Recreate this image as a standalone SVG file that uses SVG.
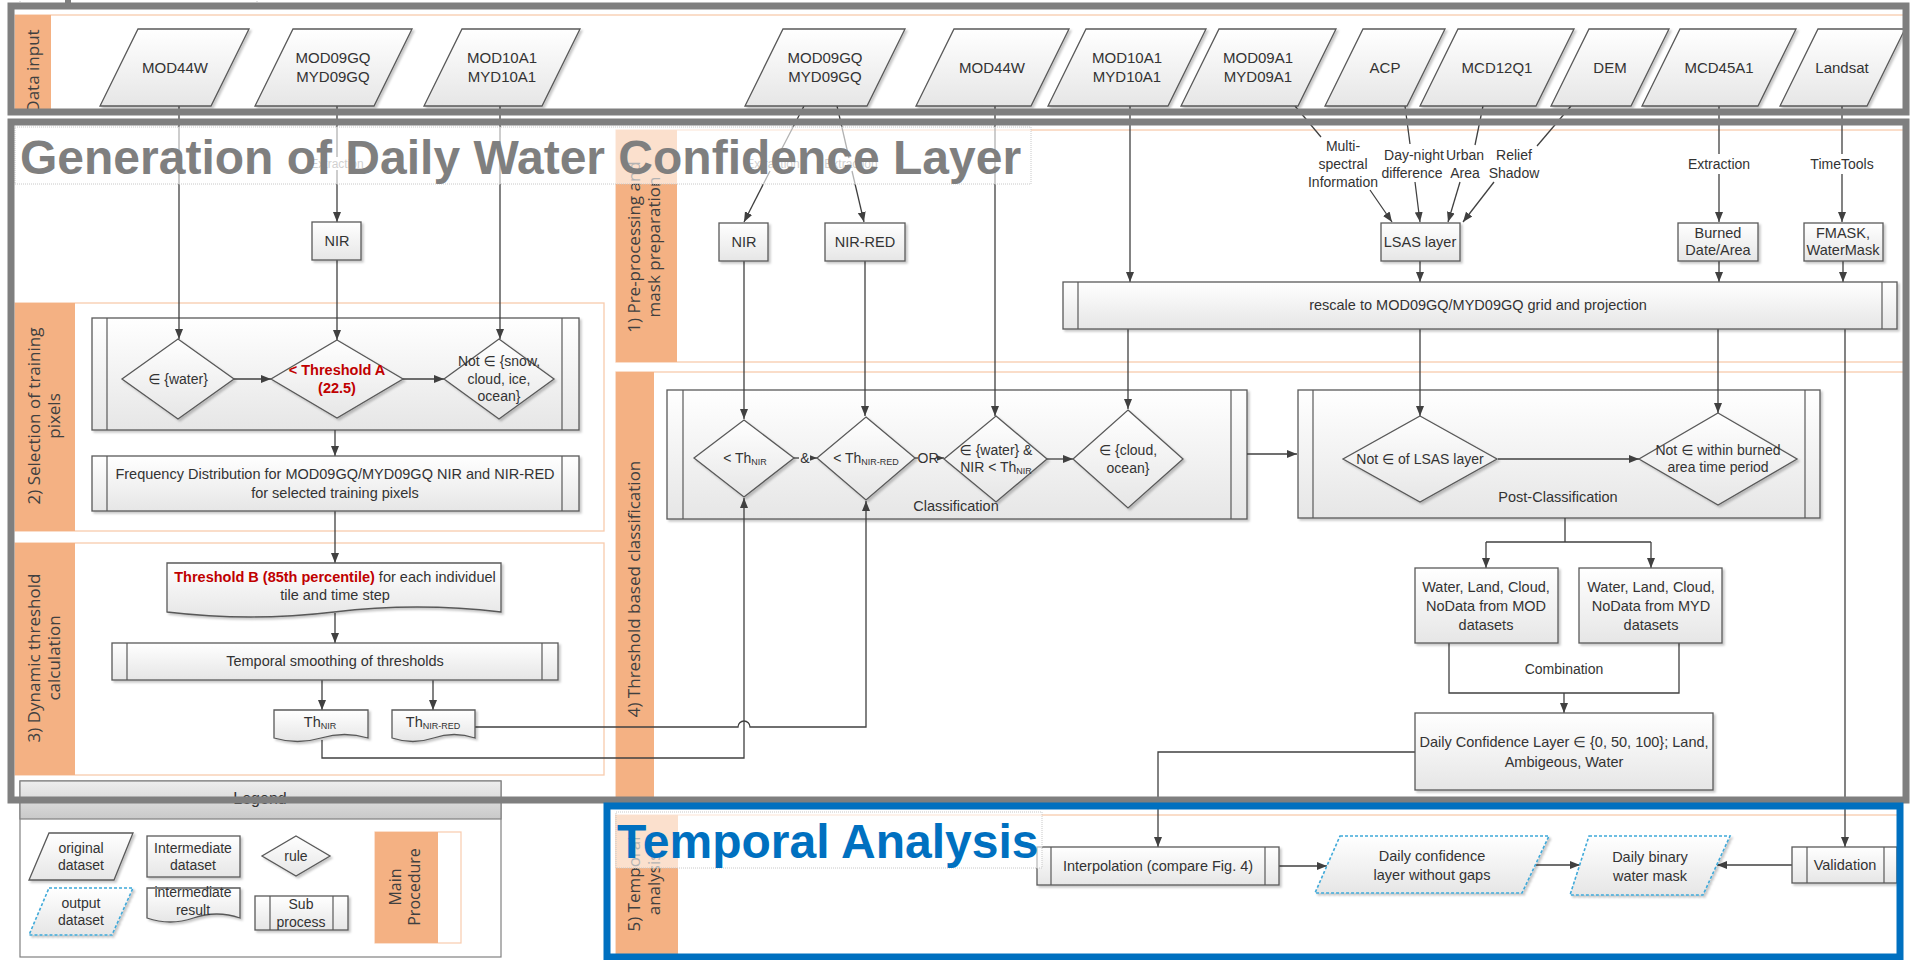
<svg xmlns="http://www.w3.org/2000/svg" width="1910" height="960" viewBox="0 0 1910 960">
<defs>
<linearGradient id="g" x1="0" y1="0" x2="0" y2="1"><stop offset="0" stop-color="#ffffff"/><stop offset="1" stop-color="#e6e6e6"/></linearGradient>
<linearGradient id="gh" x1="0" y1="0" x2="0" y2="1"><stop offset="0" stop-color="#eeeeee"/><stop offset="1" stop-color="#c9c9c9"/></linearGradient>
<filter id="sh" x="-10%" y="-10%" width="130%" height="140%"><feDropShadow dx="2" dy="2" stdDeviation="1.2" flood-color="#000" flood-opacity="0.22"/></filter>
<marker id="ah" viewBox="0 0 10 10" refX="10" refY="5" markerWidth="10" markerHeight="10" markerUnits="userSpaceOnUse" orient="auto"><path d="M0,1 L10,5 L0,9 Z" fill="#404040"/></marker>
<marker id="ahs" viewBox="0 0 10 10" refX="10" refY="5" markerWidth="7" markerHeight="7" markerUnits="userSpaceOnUse" orient="auto"><path d="M0,1 L10,5 L0,9 Z" fill="#404040"/></marker>
<style>
.s{fill:url(#g);stroke:#595959;stroke-width:1.3;filter:url(#sh)}
.ln{fill:none;stroke:#595959;stroke-width:1.2}
.out{fill:url(#g);stroke:#3fa9d9;stroke-width:1.6;stroke-dasharray:3 2;filter:url(#sh)}
.c{fill:none;stroke:#404040;stroke-width:1.3}
.a{marker-end:url(#ah)}
.as{marker-end:url(#ahs)}
.t{font-family:"Liberation Sans","DejaVu Sans",Arial,sans-serif;font-size:14.5px;fill:#333;text-anchor:middle}
.tp{font-size:15px}
.tl{font-size:14px}
.sm{font-size:12px;fill:#8a8a8a}
.red{fill:#c00000;font-weight:bold}
.strip{fill:#f4b183}
.lane{fill:#ffffff;stroke:#f8cbad;stroke-width:1.3}
.ll{font-family:"Open Sans","DejaVu Sans",sans-serif;font-size:17px;fill:#404040;text-anchor:middle}
.frame{fill:none;stroke:#7f7f7f;stroke-width:7}
.title{font-family:"Liberation Sans",Arial,sans-serif;font-weight:bold;font-size:48px}
.ov{fill:#ffffff;fill-opacity:0.6;stroke:#c8c8c8;stroke-width:1;stroke-dasharray:1 1}
</style>
</defs>
<rect x="0" y="0" width="1910" height="960" fill="#ffffff"/>

<!-- lanes -->
<g id="lanes">
<rect class="lane" x="15" y="15" width="1891" height="97"/>
<rect class="strip" x="15" y="15" width="36" height="97"/>
<rect class="lane" x="15" y="303" width="589" height="228"/>
<rect class="strip" x="15" y="303" width="60" height="228"/>
<rect class="lane" x="15" y="543" width="589" height="232"/>
<rect class="strip" x="15" y="543" width="60" height="232"/>
<rect class="lane" x="616" y="130" width="1290" height="232"/>
<rect class="strip" x="616" y="130" width="61" height="232"/>
<rect class="lane" x="616" y="372" width="1290" height="428"/>
<rect class="strip" x="616" y="372" width="38" height="428"/>
<rect class="lane" x="616" y="815" width="1284" height="145"/>
<rect class="strip" x="616" y="815" width="62" height="145"/>
</g>

<!-- legend -->
<g id="legend">
<rect x="20" y="781" width="481" height="176" fill="#ffffff" stroke="#808080" stroke-width="1.2"/>
<rect x="20" y="781" width="481" height="38" fill="url(#gh)" stroke="#808080" stroke-width="1.2"/>
<text class="t" x="260" y="804" style="font-size:16px">Legend</text>
<polygon class="s" points="49,833 133,833 114,880 29,880"/>
<text class="t tl" x="81" y="853">original</text><text class="t tl" x="81" y="870">dataset</text>
<polygon class="out" points="49,888 133,888 112,935 29,935"/>
<text class="t tl" x="81" y="908">output</text><text class="t tl" x="81" y="925">dataset</text>
<rect class="s" x="147" y="836" width="93" height="41"/>
<text class="t tl" x="193" y="853">Intermediate</text><text class="t tl" x="193" y="870">dataset</text>
<path class="s" d="M147,888 H240 V918 Q216.75,910 193.5,918 T147,918 Z"/>
<text class="t tl" x="193" y="897">intermediate</text><text class="t tl" x="193" y="915">result</text>
<polygon class="s" points="296,836 330,856 296,876 262,856"/>
<text class="t tl" x="296" y="861">rule</text>
<rect class="s" x="255" y="896" width="93" height="34"/>
<line class="ln" x1="270" y1="896" x2="270" y2="930"/><line class="ln" x1="333" y1="896" x2="333" y2="930"/>
<text class="t tl" x="301" y="909">Sub</text><text class="t tl" x="301" y="927">process</text>
<rect x="375" y="832" width="86" height="111" fill="#ffffff" stroke="#f8cbad" stroke-width="1.2"/>
<rect class="strip" x="375" y="832" width="63" height="111"/>
<text class="ll" transform="translate(401,887) rotate(-90)" style="font-size:16px">Main</text>
<text class="ll" transform="translate(420,887) rotate(-90)" style="font-size:16px">Procedure</text>
</g>

<!-- container sub-processes (drawn beneath connectors) -->
<g id="training-sub"><rect class="s" x="92" y="318" width="487" height="112"/><line class="ln" x1="107" y1="318" x2="107" y2="430"/><line class="ln" x1="562" y1="318" x2="562" y2="430"/></g>
<g id="classification"><rect class="s" x="667" y="390" width="580" height="129"/><line class="ln" x1="683" y1="390" x2="683" y2="519"/><line class="ln" x1="1231" y1="390" x2="1231" y2="519"/><text class="t" x="956" y="511">Classification</text></g>
<g id="postclass"><rect class="s" x="1298" y="390" width="522" height="128"/><line class="ln" x1="1313" y1="390" x2="1313" y2="518"/><line class="ln" x1="1805" y1="390" x2="1805" y2="518"/><text class="t" x="1558" y="502">Post-Classification</text></g>

<!-- connectors -->
<g id="connectors">
<path class="c a" d="M179,106 V339"/>
<path class="c" d="M337,106 V157"/><path class="c a" d="M337,170 V222"/>
<path class="c a" d="M337,260 V340"/>
<path class="c a" d="M500,106 V339"/>
<path class="c a" d="M234,379 H271"/>
<path class="c a" d="M403,379 H444"/>
<path class="c a" d="M335,430 V456"/>
<path class="c a" d="M335,511 V563"/>
<path class="c a" d="M335,613 V643"/>
<path class="c a" d="M322,680 V710"/>
<path class="c a" d="M433,680 V710"/>
<path class="c a" d="M475,727 H738 A6,6 0 0 1 750,727 H866 V501"/>
<path class="c a" d="M322,740 V758 H744 V498"/>
<path class="c" d="M804,106 L777,158"/><path class="c a" d="M770,171 L744,222"/>
<path class="c" d="M837,106 L849,158"/><path class="c a" d="M852,171 L864,222"/>
<path class="c a" d="M744,261 V419"/>
<path class="c a" d="M865,261 V416"/>
<path class="c a" d="M995,106 V416"/>
<path class="c a" d="M1130,106 V282"/>
<path class="c a" d="M1128,329 V409"/>
<path class="c" d="M1295,106 L1321,137"/><path class="c a" d="M1370,190 L1392,222"/>
<path class="c" d="M1405,106 L1410,144"/><path class="c a" d="M1415,182 L1420,222"/>
<path class="c" d="M1483,106 L1475,145"/><path class="c a" d="M1460,182 L1448,222"/>
<path class="c" d="M1571,106 L1537,146"/><path class="c a" d="M1494,182 L1463,222"/>
<path class="c a" d="M1420,261 V282"/>
<path class="c" d="M1719,106 V154"/><path class="c a" d="M1719,174 V222"/>
<path class="c a" d="M1719,261 V282"/>
<path class="c" d="M1842,106 V154"/><path class="c a" d="M1842,174 V222"/>
<path class="c a" d="M1843,261 V282"/>
<path class="c a" d="M1845,329 V847"/>
<path class="c a" d="M1420,329 V416"/>
<path class="c a" d="M1718,329 V413"/>
<path class="c" d="M794,458 H799"/><path class="c as" d="M810,458 H817"/>
<path class="c" d="M915,458 H918"/><path class="c as" d="M937,458 H944"/>
<path class="c a" d="M1047,459 H1073"/>
<path class="c a" d="M1247,454 H1297"/>
<path class="c a" d="M1498,459 H1639"/>
<path class="c" d="M1565,518 V542 M1486,542 H1651"/>
<path class="c a" d="M1486,542 V568"/><path class="c a" d="M1651,542 V568"/>
<path class="c" d="M1449,643 V693 H1679 V643"/>
<path class="c a" d="M1564,693 V713"/>
<path class="c a" d="M1415,752 H1158 V847"/>
<path class="c a" d="M1279,866 H1327"/>
<path class="c a" d="M1536,865 H1580"/>
<path class="c a" d="M1792,865 H1717"/>
<text class="t sm" x="337" y="168">Extraction</text>
<text class="t sm" x="773" y="168">Extraction</text>
<text class="t sm" x="851" y="168">Extraction</text>
<text class="t tl" x="805" y="463">&amp;</text>
<text class="t tl" x="928" y="463">OR</text>
<text class="t tl" x="1343" y="151">Multi-</text><text class="t tl" x="1343" y="169">spectral</text><text class="t tl" x="1343" y="187">Information</text>
<text class="t tl" x="1414" y="160">Day-night</text><text class="t tl" x="1412" y="178">difference</text>
<text class="t tl" x="1465" y="160">Urban</text><text class="t tl" x="1465" y="178">Area</text>
<text class="t tl" x="1514" y="160">Relief</text><text class="t tl" x="1514" y="178">Shadow</text>
<text class="t tl" x="1719" y="169">Extraction</text>
<text class="t tl" x="1842" y="169">TimeTools</text>
<text class="t tl" x="1564" y="674">Combination</text>
</g>

<!-- data input nodes -->
<g id="in-mod44w-a"><polygon class="s" points="138,29 249,29 211,106 100,106"/><text class="t tp" x="175" y="73">MOD44W</text></g>
<g id="in-mod09gq-a"><polygon class="s" points="293,29 412,29 374,106 255,106"/><text class="t tp" x="333" y="63">MOD09GQ</text><text class="t tp" x="333" y="82">MYD09GQ</text></g>
<g id="in-mod10a1-a"><polygon class="s" points="462,29 580,29 542,106 424,106"/><text class="t tp" x="502" y="63">MOD10A1</text><text class="t tp" x="502" y="82">MYD10A1</text></g>
<g id="in-mod09gq-b"><polygon class="s" points="783,29 905,29 867,106 745,106"/><text class="t tp" x="825" y="63">MOD09GQ</text><text class="t tp" x="825" y="82">MYD09GQ</text></g>
<g id="in-mod44w-b"><polygon class="s" points="954,29 1069,29 1031,106 916,106"/><text class="t tp" x="992" y="73">MOD44W</text></g>
<g id="in-mod10a1-b"><polygon class="s" points="1086,29 1206,29 1168,106 1048,106"/><text class="t tp" x="1127" y="63">MOD10A1</text><text class="t tp" x="1127" y="82">MYD10A1</text></g>
<g id="in-mod09a1"><polygon class="s" points="1219,29 1336,29 1298,106 1181,106"/><text class="t tp" x="1258" y="63">MOD09A1</text><text class="t tp" x="1258" y="82">MYD09A1</text></g>
<g id="in-acp"><polygon class="s" points="1363,29 1445,29 1407,106 1325,106"/><text class="t tp" x="1385" y="73">ACP</text></g>
<g id="in-mcd12q1"><polygon class="s" points="1458,29 1574,29 1536,106 1420,106"/><text class="t tp" x="1497" y="73">MCD12Q1</text></g>
<g id="in-dem"><polygon class="s" points="1589,29 1669,29 1631,106 1551,106"/><text class="t tp" x="1610" y="73">DEM</text></g>
<g id="in-mcd45a1"><polygon class="s" points="1680,29 1796,29 1758,106 1642,106"/><text class="t tp" x="1719" y="73">MCD45A1</text></g>
<g id="in-landsat"><polygon class="s" points="1818,29 1905,29 1867,106 1780,106"/><text class="t tp" x="1842" y="73">Landsat</text></g>

<!-- lane 2/3 nodes -->
<g id="nir-a"><rect class="s" x="312" y="222" width="49" height="38"/><text class="t" x="337" y="246">NIR</text></g>
<g id="rule-water"><polygon class="s" points="178,339 234,379 178,419 122,379"/><text class="t tl" x="178" y="384">∈ {water}</text></g>
<g id="rule-thA"><polygon class="s" points="337,340 403,379 337,418 271,379"/><text class="t red" x="337" y="375">&lt; Threshold A</text><text class="t red" x="337" y="393">(22.5)</text></g>
<g id="rule-snow"><polygon class="s" points="499,339 554,379 499,419 444,379"/><text class="t tl" x="499" y="366">Not ∈ {snow,</text><text class="t tl" x="499" y="384">cloud, ice,</text><text class="t tl" x="499" y="401">ocean}</text></g>
<g id="freq"><rect class="s" x="92" y="456" width="487" height="55"/><line class="ln" x1="107" y1="456" x2="107" y2="511"/><line class="ln" x1="562" y1="456" x2="562" y2="511"/><text class="t" x="335" y="479">Frequency Distribution for MOD09GQ/MYD09GQ NIR and NIR-RED</text><text class="t" x="335" y="498">for selected training pixels</text></g>
<g id="thB"><path class="s" d="M167,563 H501 V612 Q417,602 334,612 T167,612 Z"/><text class="t" x="335" y="582"><tspan class="red">Threshold B (85th percentile)</tspan> for each individuel</text><text class="t" x="335" y="600">tile and time step</text></g>
<g id="smooth"><rect class="s" x="112" y="643" width="446" height="37"/><line class="ln" x1="127" y1="643" x2="127" y2="680"/><line class="ln" x1="542" y1="643" x2="542" y2="680"/><text class="t" x="335" y="666">Temporal smoothing of thresholds</text></g>
<g id="th-nir"><path class="s" d="M274,710 H368 V738 Q344.5,731 321,738 T274,738 Z"/><text class="t" x="320" y="727">Th<tspan font-size="9" dy="2">NIR</tspan></text></g>
<g id="th-nirred"><path class="s" d="M392,710 H475 V738 Q454,731 433.5,738 T392,738 Z"/><text class="t" x="433" y="727">Th<tspan font-size="9" dy="2">NIR-RED</tspan></text></g>

<!-- lane 1 nodes -->
<g id="nir-b"><rect class="s" x="719" y="223" width="49" height="38"/><text class="t" x="744" y="247">NIR</text></g>
<g id="nirred-b"><rect class="s" x="825" y="223" width="80" height="38"/><text class="t" x="865" y="247">NIR-RED</text></g>
<g id="lsas"><rect class="s" x="1381" y="223" width="79" height="38"/><text class="t" x="1420" y="247">LSAS layer</text></g>
<g id="burned"><rect class="s" x="1678" y="223" width="80" height="38"/><text class="t" x="1718" y="238">Burned</text><text class="t" x="1718" y="255">Date/Area</text></g>
<g id="fmask"><rect class="s" x="1804" y="223" width="79" height="38"/><text class="t" x="1843" y="238">FMASK,</text><text class="t" x="1843" y="255">WaterMask</text></g>
<g id="rescale"><rect class="s" x="1063" y="282" width="834" height="47"/><line class="ln" x1="1078" y1="282" x2="1078" y2="329"/><line class="ln" x1="1882" y1="282" x2="1882" y2="329"/><text class="t" x="1478" y="310">rescale to MOD09GQ/MYD09GQ  grid and projection</text></g>

<!-- lane 4 nodes -->
<g id="rule-thnir"><polygon class="s" points="744,420 794,458 744,497 694,458"/><text class="t tl" x="745" y="463">&lt; Th<tspan font-size="9" dy="2">NIR</tspan></text></g>
<g id="rule-thnirred"><polygon class="s" points="866,417 915,458 866,500 817,458"/><text class="t tl" x="866" y="463">&lt; Th<tspan font-size="9" dy="2">NIR-RED</tspan></text></g>
<g id="rule-waternir"><polygon class="s" points="996,416 1047,459 996,502 944,459"/><text class="t tl" x="996" y="455">∈ {water} &amp;</text><text class="t tl" x="996" y="472">NIR &lt; Th<tspan font-size="9" dy="2">NIR</tspan></text></g>
<g id="rule-cloud"><polygon class="s" points="1128,410 1183,459 1128,508 1073,459"/><text class="t tl" x="1128" y="455">∈ {cloud,</text><text class="t tl" x="1128" y="473">ocean}</text></g>
<g id="rule-lsas"><polygon class="s" points="1420,416 1497,459 1420,502 1343,459"/><text class="t tl" x="1420" y="464">Not ∈ of LSAS layer</text></g>
<g id="rule-burned"><polygon class="s" points="1718,413 1797,459 1718,505 1639,459"/><text class="t tl" x="1718" y="455">Not ∈ within burned</text><text class="t tl" x="1718" y="472">area time period</text></g>
<g id="mod-res"><rect class="s" x="1415" y="568" width="143" height="75"/><text class="t" x="1486" y="592">Water, Land, Cloud,</text><text class="t" x="1486" y="611">NoData from MOD</text><text class="t" x="1486" y="630">datasets</text></g>
<g id="myd-res"><rect class="s" x="1579" y="568" width="143" height="75"/><text class="t" x="1651" y="592">Water, Land, Cloud,</text><text class="t" x="1651" y="611">NoData from MYD</text><text class="t" x="1651" y="630">datasets</text></g>
<g id="daily-conf"><rect class="s" x="1415" y="713" width="298" height="77"/><text class="t" x="1564" y="747">Daily Confidence Layer ∈ {0, 50, 100}; Land,</text><text class="t" x="1564" y="767">Ambigeous, Water</text></g>

<!-- lane 5 nodes -->
<g id="interp"><rect class="s" x="1037" y="847" width="242" height="38"/><line class="ln" x1="1051" y1="847" x2="1051" y2="885"/><line class="ln" x1="1265" y1="847" x2="1265" y2="885"/><text class="t" x="1158" y="871">Interpolation (compare Fig. 4)</text></g>
<g id="conf-nogaps"><polygon class="out" points="1340,836 1549,836 1522,893 1315,893"/><text class="t" x="1432" y="861">Daily confidence</text><text class="t" x="1432" y="880">layer without gaps</text></g>
<g id="binary-mask"><polygon class="out" points="1589,836 1730,836 1703,895 1570,895"/><text class="t" x="1650" y="862">Daily binary</text><text class="t" x="1650" y="881">water mask</text></g>
<g id="validation"><rect class="s" x="1792" y="847" width="105" height="36"/><line class="ln" x1="1807" y1="847" x2="1807" y2="883"/><line class="ln" x1="1884" y1="847" x2="1884" y2="883"/><text class="t" x="1845" y="870">Validation</text></g>

<!-- lane labels -->
<g id="lane-labels">
<text class="ll" transform="translate(39,71) rotate(-90)">Data input</text>
<text class="ll" transform="translate(39.5,416) rotate(-90)">2) Selection of training</text>
<text class="ll" transform="translate(59.5,416) rotate(-90)">pixels</text>
<text class="ll" transform="translate(39.5,658) rotate(-90)">3) Dynamic threshold</text>
<text class="ll" transform="translate(59.5,658) rotate(-90)">calculation</text>
<text class="ll" transform="translate(640,247) rotate(-90)">1) Pre-processing and</text>
<text class="ll" transform="translate(660,247) rotate(-90)">mask preparation</text>
<text class="ll" transform="translate(640,589) rotate(-90)">4) Threshold based classification</text>
<text class="ll" transform="translate(640,884) rotate(-90)">5) Temporal</text>
<text class="ll" transform="translate(660,884) rotate(-90)">analysis</text>
</g>

<!-- titles -->
<g id="title-generation">
<rect class="ov" x="15" y="127" width="1016" height="57"/>
<text class="title" x="20" y="174" fill="#7f7f7f">Generation of Daily Water Confidence Layer</text>
</g>
<g id="title-temporal">
<rect class="ov" x="616" y="812" width="426" height="56"/>
<text class="title" x="617" y="858" fill="#0070c0">Temporal Analysis</text>
</g>
<g id="title-top">
<rect class="ov" x="20" y="-10" width="237" height="16"/>
<rect x="65" y="0" width="6" height="5" fill="#7f7f7f"/>
</g>

<!-- frames -->
<g id="frames">
<rect class="frame" x="11" y="6" width="1895" height="106"/>
<rect class="frame" x="11" y="122" width="1895" height="678"/>
<rect x="607" y="806" width="1293" height="151" fill="none" stroke="#0070c0" stroke-width="7"/>
</g>
</svg>
